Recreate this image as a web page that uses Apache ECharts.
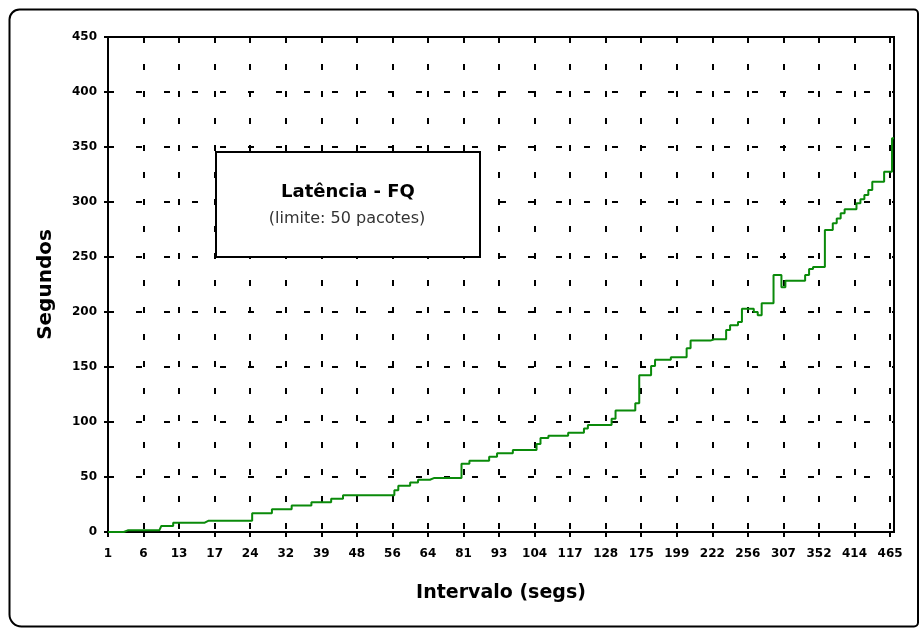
<!DOCTYPE html>
<html>
<head>
<meta charset="utf-8">
<script src="https://cdn.jsdelivr.net/npm/echarts/dist/echarts.min.js"></script>
<style>
html,body{margin:0;padding:0;background:#fff;}
#chart{width:920px;height:630px;}
</style>
</head>
<body>
<div id="chart"></div>
<script>
// Tick labels shown on the category axis (one every 9 samples)
const xTickLabels = ['1','6','13','17','24','32','39','48','56','64','81','93','104','117','128','175','199','222','256','307','352','414','465'];
const labelEvery = 9;

// Latency (seconds) per sample
const latency = [
  0,0,0,0,0,1.5,1.5,1.5,1.5,1.5,
  1.5,1.5,1.5,1.5,5.5,5.5,5.5,8.5,8.5,8.5,
  8.5,8.5,8.5,8.5,8.5,10.3,10.3,10.3,10.3,10.3,
  10.3,10.3,10.3,10.3,10.3,10.3,10.3,17,17,17,
  17,17,20.6,20.6,20.6,20.6,20.6,24,24,24,
  24,24,27,27,27,27,27,30.3,30.3,30.3,
  33.3,33.3,33.3,33.3,33.3,33.3,33.3,33.3,33.3,33.3,
  33.3,33.3,33.3,38,42,42,42,45,45,47.5,
  47.5,47.5,49,49,49,49,49,49,49,49,
  62,62,64.8,64.8,64.8,64.8,64.8,68.5,68.5,71.5,
  71.5,71.5,71.5,74.5,74.5,74.5,74.5,74.5,74.5,80,
  85.5,85.5,87.6,87.6,87.6,87.6,87.6,90.3,90.3,90.3,
  90.3,94,97.3,97.3,97.3,97.3,97.3,97.3,103,110.5,
  110.5,110.5,110.5,110.5,117,142.5,142.5,142.5,151,156.5,
  156.5,156.5,156.5,158.8,158.8,158.8,158.8,167,174,174,
  174,174,174,175.2,175.2,175.2,175.2,183.6,188,188,
  191,203,203,203,200,197,208,208,208,233.6,
  233.6,222.5,228.5,228.5,228.5,228.5,228.5,233.6,239,241,
  241,241,274.5,274.5,280.6,285,289.7,293.3,293.3,293.3,
  298.8,302.4,306.4,311,318.5,318.5,318.5,327.5,327.5,358
];

const yMin = 0, yMax = 450, yStep = 50;
const titleText = 'Latência - FQ';
const subtitleText = '(limite: 50 pacotes)';
const xName = 'Intervalo (segs)';
const yName = 'Segundos';

// category names: known tick labels on every 9th sample, others unnamed
const categories = latency.map((_, i) => (i % labelEvery === 0 && xTickLabels[i / labelEvery] !== undefined) ? xTickLabels[i / labelEvery] : '');

const FONT = '"DejaVu Sans", "Liberation Sans", sans-serif';
const chart = echarts.init(document.getElementById('chart'), null, {renderer: 'canvas'});
chart.setOption({
  animation: false,
  backgroundColor: '#ffffff',
  grid: {
    left: 108, top: 37, right: 26, bottom: 98,
    containLabel: false, outerBoundsMode: 'none',
    show: true, borderColor: '#000', borderWidth: 2, backgroundColor: 'transparent'
  },
  xAxis: {
    type: 'category',
    data: categories,
    boundaryGap: false,
    name: xName,
    nameLocation: 'middle',
    nameGap: 52,
    nameTextStyle: {fontFamily: FONT, fontWeight: 'bold', fontSize: 19, color: '#000'},
    axisLine: {show: true, lineStyle: {color: '#000', width: 2}},
    axisTick: {show: true, interval: labelEvery - 1, length: 5, lineStyle: {color: '#000', width: 2}},
    axisLabel: {interval: labelEvery - 1, margin: 16, fontFamily: FONT, fontWeight: 'bold', fontSize: 12, color: '#000'},
    splitLine: {show: true, interval: labelEvery - 1, lineStyle: {color: '#000', width: 2, type: [6, 21]}}
  },
  yAxis: {
    type: 'value',
    min: yMin, max: yMax, interval: yStep,
    name: yName,
    nameLocation: 'middle',
    nameRotate: 90,
    nameGap: 52,
    nameTextStyle: {fontFamily: FONT, fontWeight: 'bold', fontSize: 20, color: '#000'},
    axisLine: {show: true, lineStyle: {color: '#000', width: 2}},
    axisTick: {show: true, length: 4, lineStyle: {color: '#000', width: 2}},
    axisLabel: {margin: 11, fontFamily: FONT, fontWeight: 'bold', fontSize: 12, color: '#000'},
    splitLine: {show: true, lineStyle: {color: '#000', width: 2, type: [6, 22]}}
  },
  series: [{
    type: 'line',
    data: latency,
    step: 'middle',
    symbol: 'none',
    lineStyle: {color: '#0a8a0a', width: 2},
    itemStyle: {color: '#0a8a0a'},
    z: 3
  }],
  graphic: [
    {
      type: 'rect', z: 100, silent: true,
      shape: {x: 9.5, y: 9.5, width: 908.5, height: 617, r: [10, 4, 4, 12]},
      style: {fill: 'none', stroke: '#000', lineWidth: 2}
    },
    {
      type: 'rect', z: 50, silent: true,
      shape: {x: 216, y: 152, width: 264, height: 105},
      style: {fill: '#fff', stroke: '#000', lineWidth: 2}
    },
    {
      type: 'text', z: 51, silent: true, x: 348, y: 192,
      style: {text: titleText, align: 'center', verticalAlign: 'middle', textAlign: 'center', textVerticalAlign: 'middle',
              fontFamily: FONT, fontWeight: 'bold', fontSize: 18, fill: '#000'}
    },
    {
      type: 'text', z: 51, silent: true, x: 347, y: 219,
      style: {text: subtitleText, align: 'center', verticalAlign: 'middle', textAlign: 'center', textVerticalAlign: 'middle',
              fontFamily: FONT, fontWeight: 'normal', fontSize: 16, fill: '#333'}
    }
  ]
});
</script>
</body>
</html>
